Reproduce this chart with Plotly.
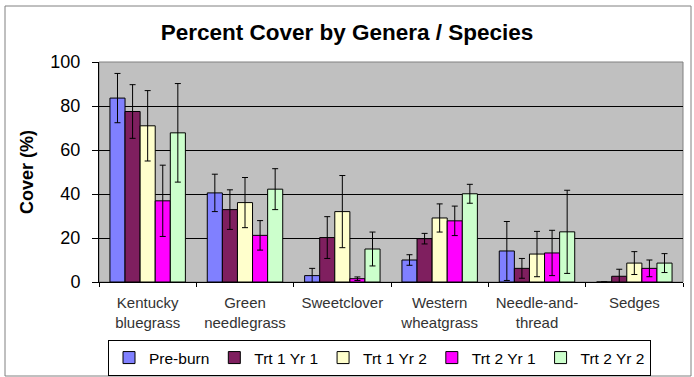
import plotly.graph_objects as go

categories = ["Kentucky<br>bluegrass", "Green<br>needlegrass", "Sweetclover",
              "Western<br>wheatgrass", "Needle-and-<br>thread", "Sedges"]
series_names = ["Pre-burn", "Trt 1 Yr 1", "Trt 1 Yr 2", "Trt 2 Yr 1", "Trt 2 Yr 2"]
pre_burn = [83.6, 40.5, 2.9, 10.0, 14.1, 0]
trt1_yr1 = [77.5, 32.9, 20.2, 19.7, 6.2, 2.6]
trt1_yr2 = [71.0, 36.1, 32.0, 29.1, 12.7, 8.6]
trt2_yr1 = [36.9, 21.2, 1.5, 27.8, 13.2, 6.2]
trt2_yr2 = [67.8, 42.2, 15.0, 40.1, 22.8, 8.6]
pre_burn_err = [11.2, 8.5, 3.3, 2.4, 13.4, 0]
trt1_yr1_err = [12.2, 9.0, 9.5, 2.4, 4.5, 3.2]
trt1_yr2_err = [16.0, 11.4, 16.4, 6.4, 10.3, 5.2]
trt2_yr1_err = [16.2, 6.7, 0.8, 6.7, 10.3, 3.8]
trt2_yr2_err = [22.4, 9.3, 7.7, 4.3, 18.9, 4.3]
colors = ["#8080FF", "#7F1F5F", "#FFFFCC", "#FF00FF", "#CCFFCC"]
y_ticks = [0, 20, 40, 60, 80, 100]

values = [pre_burn, trt1_yr1, trt1_yr2, trt2_yr1, trt2_yr2]
errors = [pre_burn_err, trt1_yr1_err, trt1_yr2_err, trt2_yr1_err, trt2_yr2_err]

fig = go.Figure()
for name, vals, errs, col in zip(series_names, values, errors, colors):
    fig.add_trace(go.Bar(
        x=categories, y=vals, name=name,
        marker=dict(color=col, line=dict(color="black", width=1)),
        error_y=dict(type="data", array=errs, visible=True, color="black",
                     thickness=1, width=3),
    ))

fig.update_layout(
    width=694, height=377,
    margin=dict(l=99, r=11, t=62, b=95, autoexpand=False),
    paper_bgcolor="white",
    plot_bgcolor="#C0C0C0",
    barmode="group",
    bargap=0.225,
    bargroupgap=0,
    font=dict(family="Liberation Sans, Arial, sans-serif", color="black"),
    title=dict(text="<b>Percent Cover by Genera / Species</b>",
               x=0.5, xref="container", xanchor="center",
               y=1 - 32 / 377, yanchor="middle", automargin=False,
               font=dict(size=22.5, color="black")),
    xaxis=dict(
        showgrid=False, ticks="outside", tickson="boundaries",
        ticklen=4, tickcolor="black", showline=True, linecolor="black",
        tickfont=dict(size=15, color="#333333"),
        ticklabelstandoff=7, automargin=False,
        mirror=False,
    ),
    yaxis=dict(
        range=[0, 100], tickvals=y_ticks, showgrid=True, gridcolor="black",
        gridwidth=1, ticks="outside", ticklen=6, tickcolor="black",
        showline=True, linecolor="black",
        tickfont=dict(size=18, color="black"),
        ticklabelstandoff=8, automargin=False,
        title=dict(text="<b>Cover (%)</b>", font=dict(size=18), standoff=12),
        zeroline=False,
    ),
    legend=dict(
        orientation="h", x=9 / 584, xanchor="left", y=-58 / 220, yanchor="top",
        bordercolor="black", borderwidth=1, bgcolor="white",
        font=dict(size=15.5, color="black"),
        itemwidth=30, tracegroupgap=0,
    ),
    shapes=[
        dict(type="rect", xref="paper", yref="paper",
             x0=1, y0=0, x1=0, y1=1,
             line=dict(color="#808080", width=1), fillcolor="rgba(0,0,0,0)",
             layer="below"),
        dict(type="rect", xref="paper", yref="paper",
             x0=-94 / 584, y0=-94 / 220, x1=1 + 8 / 584, y1=1 + 56 / 220,
             line=dict(color="#808080", width=1), fillcolor="rgba(0,0,0,0)",
             layer="below"),
    ],
)

fig.write_html("out.html",
               config={"displayModeBar": False},
               post_script="document.body.style.margin='0';document.body.style.overflow='hidden';")
